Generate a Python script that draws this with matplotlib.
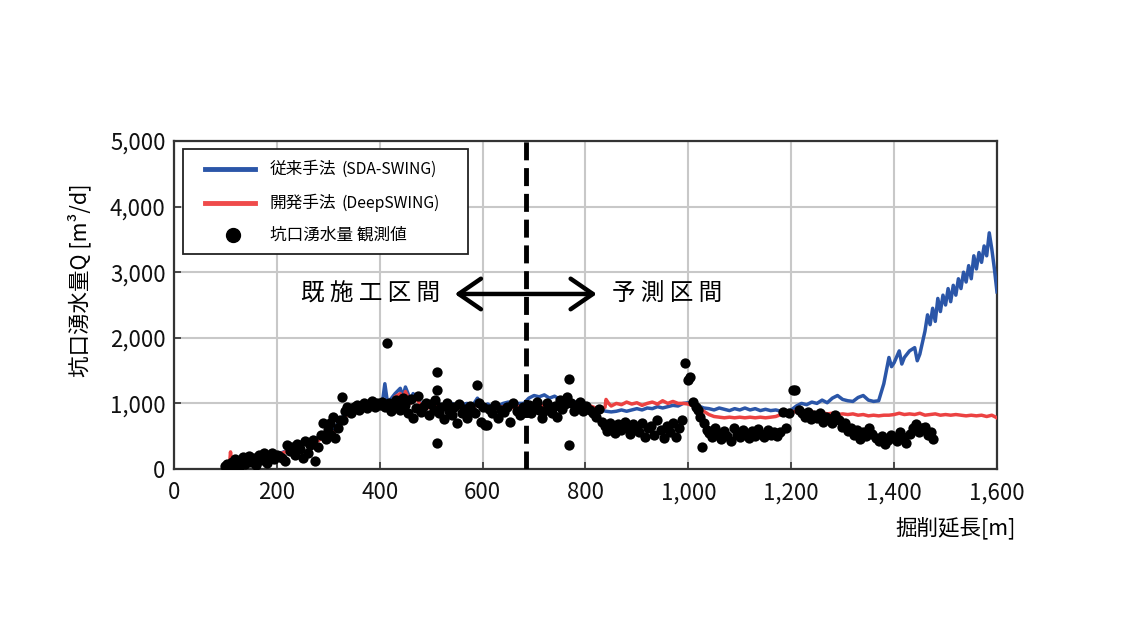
import matplotlib
matplotlib.use("Agg")
import matplotlib.pyplot as plt
from matplotlib.patches import Rectangle

plt.rcParams['font.family'] = ['Noto Sans CJK JP', 'DejaVu Sans']

# 従来手法 (SDA-SWING)
sda_x = [105, 110, 120, 130, 140, 150, 160, 170, 180, 190, 200, 210, 220, 230, 240, 250, 260, 270, 280, 290,
         300, 310, 320, 330, 340, 350, 360, 370, 380, 390, 400, 405, 410, 415, 420, 430, 440, 445, 450, 460,
         465, 470, 480, 490, 500, 510, 520, 530, 540, 550, 560, 570, 580, 590, 600, 610, 620, 630, 640, 650,
         660, 670, 680, 690, 700, 710, 720, 730, 740, 750, 760, 770, 780, 790, 800, 810, 820, 830, 840, 850,
         860, 870, 880, 890, 900, 910, 920, 930, 940, 950, 960, 970, 980, 990, 1000, 1010, 1020, 1030, 1040,
         1050, 1060, 1070, 1080, 1090, 1100, 1110, 1120, 1130, 1140, 1150, 1160, 1170, 1180, 1190, 1200, 1210,
         1220, 1230, 1240, 1250, 1260, 1270, 1280, 1290, 1300, 1310, 1320, 1330, 1340, 1350, 1360, 1370, 1380,
         1390, 1395, 1400, 1410, 1415, 1420, 1430, 1440, 1445, 1450, 1460, 1465, 1470, 1475, 1480, 1485, 1490,
         1495, 1500, 1505, 1510, 1515, 1520, 1525, 1530, 1535, 1540, 1545, 1550, 1555, 1560, 1565, 1570, 1575,
         1580, 1585, 1590, 1595, 1600]
sda_y = [30, 60, 80, 120, 100, 150, 130, 180, 160, 200, 220, 250, 280, 330, 380, 420, 400, 480, 470, 520,
         550, 620, 700, 820, 880, 900, 920, 940, 960, 980, 990, 1000, 1300, 1020, 1050, 1150, 1230, 1100, 1250, 1050,
         1150, 1100, 1000, 950, 1000, 1050, 950, 980, 1000, 960, 980, 1000, 960, 1080, 960, 990, 940, 960, 1000, 1020,
         950, 1000, 1000, 1080, 1120, 1100, 1130, 1080, 1110, 1060, 1020, 1000, 1020, 980, 980, 950, 920, 900, 880, 870,
         880, 900, 880, 900, 920, 900, 930, 920, 950, 930, 950, 970, 960, 1000, 1010, 1000, 960, 930, 920,
         900, 930, 910, 890, 920, 900, 930, 900, 920, 890, 910, 890, 900, 880, 870, 900, 960,
         1000, 980, 1020, 1000, 1050, 1010, 1080, 1120, 1060, 1040, 1030, 1090, 1120, 1050, 1030, 1040, 1300,
         1700, 1560, 1620, 1800, 1600, 1700, 1800, 1850, 1650, 1750, 2100, 2350, 2200, 2450, 2250, 2600, 2400,
         2650, 2500, 2750, 2550, 2800, 2650, 2900, 2750, 3000, 2850, 3100, 2900, 3250, 3050, 3300, 3150, 3400,
         3250, 3600, 3350, 3050, 2700]

# 開発手法 (DeepSWING)
deep_x = [105, 108, 110, 112, 120, 130, 140, 150, 160, 170, 180, 190, 200, 210, 220, 230, 240, 250, 260, 270,
          280, 290, 300, 310, 320, 330, 340, 350, 360, 370, 380, 390, 400, 410, 420, 430, 440, 445, 450, 460,
          470, 480, 490, 500, 510, 520, 530, 540, 550, 560, 570, 580, 590, 600, 610, 620, 630, 640, 650, 660,
          670, 680, 690, 700, 710, 720, 730, 740, 750, 760, 770, 780, 790, 800, 810, 820, 830, 838, 840, 845,
          850, 860, 870, 880, 890, 900, 910, 920, 930, 940, 950, 960, 970, 980, 990, 1000, 1010, 1020, 1030,
          1040, 1050, 1060, 1070, 1080, 1090, 1100, 1110, 1120, 1130, 1140, 1150, 1160, 1170, 1180, 1190, 1200,
          1210, 1220, 1230, 1240, 1250, 1260, 1270, 1280, 1290, 1300, 1310, 1320, 1330, 1340, 1350, 1360, 1370,
          1380, 1390, 1400, 1410, 1420, 1430, 1440, 1450, 1460, 1470, 1480, 1490, 1500, 1510, 1520, 1530, 1540,
          1550, 1560, 1570, 1580, 1590, 1600]
deep_y = [30, 60, 260, 60, 70, 110, 90, 140, 120, 170, 150, 190, 210, 240, 270, 320, 350, 400, 380, 440,
          430, 480, 520, 560, 600, 780, 850, 880, 900, 930, 950, 970, 980, 1000, 980, 1100, 1150, 1000, 1180, 1000,
          1080, 980, 920, 950, 980, 930, 940, 960, 920, 950, 930, 940, 980, 920, 940, 900, 930, 950, 920, 940,
          950, 960, 980, 960, 980, 960, 990, 950, 970, 960, 980, 960, 970, 950, 960, 930, 920, 940, 1060, 1000,
          960, 1000, 980, 1020, 990, 1010, 970, 1000, 1020, 990, 1040, 1000, 1030, 1000, 1000, 990, 960, 920, 880,
          830, 800, 790, 780, 790, 780, 790, 780, 790, 780, 790, 780, 790, 800, 830, 860, 880,
          870, 880, 860, 870, 850, 860, 840, 850, 830, 840, 830, 840, 820, 830, 810, 820, 810,
          820, 820, 830, 850, 830, 840, 830, 850, 820, 830, 840, 820, 830, 820, 830, 820, 810,
          820, 810, 820, 800, 820, 780]

# 坑口湧水量 観測値
obs_x = [100, 104, 108, 112, 115, 118, 122, 126, 130, 134, 138, 142, 146, 150, 155, 160, 165, 170, 175, 180,
         185, 190, 195, 200,
         205, 210, 215, 220, 225, 230, 235, 240, 245, 250, 255, 260, 265, 270, 275, 280, 285, 290, 295, 300,
         303, 306, 310, 314, 318, 322, 326, 329, 332, 336, 340, 345, 350, 355, 360, 365, 370, 375, 380, 385,
         390, 395, 400,
         405, 410, 414, 418, 422, 428, 432, 436, 440, 445, 450, 455, 460, 465, 470, 475, 480, 485, 490, 495, 500,
         505, 508, 511, 511, 511, 515, 520, 525, 530, 535, 540, 545, 550, 555, 560, 565, 570, 575, 580, 585,
         589, 593, 597, 601, 605, 608,
         612, 618, 624, 630, 636, 642, 648, 654, 660, 666, 672, 678, 684, 690,
         695, 700, 705, 710, 715, 720, 725, 730, 735, 740, 745, 750, 755, 760, 765, 768, 768, 772, 778, 784,
         790, 796, 802, 808, 814, 820, 826,
         832, 838, 842, 848, 854, 858, 864, 870, 876, 880, 886, 892, 898, 904, 910, 916, 922, 928, 934, 940,
         946, 952, 958, 964, 970, 976, 982, 988,
         993, 999, 1003, 1009, 1014, 1018, 1022, 1026, 1030, 1036, 1040, 1046, 1052, 1058, 1064, 1070, 1076,
         1082, 1088, 1094, 1100, 1106, 1112, 1118, 1124, 1130, 1136, 1142, 1148, 1154, 1160, 1166, 1172, 1178,
         1184, 1190,
         1196, 1203, 1207, 1215, 1220, 1226, 1232, 1238, 1244, 1250, 1256, 1262, 1268, 1274, 1280, 1286, 1292,
         1298, 1304, 1310, 1316, 1322, 1328, 1334, 1340, 1346, 1352, 1358, 1364, 1370, 1376, 1382, 1388, 1394,
         1400, 1406, 1412, 1418, 1424, 1430, 1436, 1442, 1448, 1454, 1460, 1466, 1472, 1476]
obs_y = [40, 80, 20, 100, 60, 150, 90, 30, 120, 180, 70, 140, 200, 110, 170, 60, 210, 130, 240, 90,
         180, 250, 150, 210,
         200, 170, 120, 370, 280, 330, 220, 380, 300, 160, 420, 250, 360, 440, 120, 330, 520, 700, 460, 600,
         700, 520, 800, 470, 620, 750, 1100, 750, 880, 950, 920, 860, 940, 980, 900, 960, 1010, 930, 990, 1040,
         950, 1000, 980,
         1020, 950, 1920, 1000, 880, 960, 1050, 1000, 900, 1080, 980, 850, 1060, 780, 930, 1120, 870, 950, 1000, 820, 990,
         900, 1050, 1480, 1200, 400, 860, 950, 760, 1000, 880, 820, 940, 700, 990, 850, 920, 780, 960, 880, 850,
         1280, 1000, 720, 950, 670, 670,
         920, 850, 980, 780, 900, 870, 950, 720, 1000, 880, 820, 940, 900, 980,
         850, 950, 1020, 900, 780, 880, 1000, 920, 860, 960, 800, 1050, 920, 990, 1100, 1370, 370, 1000, 880, 950,
         1020, 890, 960, 900, 850, 800, 920,
         720, 650, 580, 700, 620, 550, 680, 600, 720, 640, 540, 690, 620, 560, 700, 480, 620, 660, 520, 740,
         590, 470, 650, 560, 700, 480, 620, 740,
         1620, 1360, 1400, 1020, 950, 900, 800, 340, 700, 600, 550, 480, 620, 520, 450, 580, 500,
         430, 620, 540, 480, 590, 520, 470, 580, 500, 610, 540, 480, 600, 520, 570, 500, 560,
         870, 620,
         860, 1200, 1200, 900, 850, 800, 870, 760, 820, 780, 850, 720, 800, 760, 700, 820, 740,
         640, 700, 580, 620, 520, 600, 450, 560, 500, 620, 540, 470, 420, 500, 380, 440, 520,
         470, 420, 560, 480, 400, 540, 620, 680, 560, 620, 640, 520, 560, 450]

x_ticks = [0, 200, 400, 600, 800, 1000, 1200, 1400, 1600]
x_labels = ['0', '200', '400', '600', '800', '1,000', '1,200', '1,400', '1,600']
y_ticks = [0, 1000, 2000, 3000, 4000, 5000]
y_labels = ['0', '1,000', '2,000', '3,000', '4,000', '5,000']
boundary_x = 685

blue = '#2b56a8'
red = '#ec4242'

fig = plt.figure(figsize=(11.31, 6.36), dpi=100)
ax = fig.add_axes([0.1538, 0.2626, 0.7277, 0.5157])

ax.plot(sda_x, sda_y, color=blue, lw=2.5, zorder=3)
ax.plot(deep_x, deep_y, color=red, lw=2.5, zorder=3)
ax.scatter(obs_x, obs_y, s=55, color='black', zorder=4, linewidths=0)

ax.axvline(boundary_x, color='black', lw=3.5, dashes=(3.7, 1.6), zorder=5)

ax.set_xlim(0, 1600)
ax.set_ylim(0, 5000)
ax.set_xticks(x_ticks)
ax.set_xticklabels(x_labels)
ax.set_yticks(y_ticks)
ax.set_yticklabels(y_labels)
ax.tick_params(direction='in', length=5, width=1.2, colors='#333333', labelcolor='#111111',
               labelsize=16)
ax.tick_params(axis='x', pad=9)
ax.tick_params(axis='y', pad=6)
ax.grid(True, color='#c8c8c8', lw=1.5, zorder=0)
for s in ax.spines.values():
    s.set_color('#333333')
    s.set_linewidth(1.6)

# y label and x label
fig.text(80 / 1131, 1 - 280 / 636, '坑口湧水量Q [m³/d]', rotation=90, ha='center', va='center',
         fontsize=15.5)
fig.text(1016 / 1131, 1 - 528 / 636, '掘削延長[m]', ha='right', va='center', fontsize=15.5)

# section arrow and labels
arrow_y = 2668
ax.annotate('', xy=(546, arrow_y), xytext=(822, arrow_y),
            arrowprops=dict(arrowstyle='<->,head_length=0.8,head_width=0.55', lw=3.2,
                            color='black', mutation_scale=20, shrinkA=0, shrinkB=0), zorder=6)
ax.text(517, arrow_y, '既 施 工 区 間', ha='right', va='center', fontsize=17, zorder=6)
ax.text(851, arrow_y, '予 測 区 間', ha='left', va='center', fontsize=17, zorder=6)

# legend drawn by hand (parentheses part is smaller)
ax.add_patch(Rectangle((0.0109, 0.6555), 0.3463, 0.3201, transform=ax.transAxes,
                       facecolor='white', edgecolor='#222222', lw=1.3, zorder=7))
rows = [0.9146, 0.811, 0.7134]
ax.plot([0.0377, 0.0984], [rows[0]] * 2, color=blue, lw=3.5, transform=ax.transAxes, zorder=8)
ax.plot([0.0377, 0.0984], [rows[1]] * 2, color='#ef4b4b', lw=3.5, transform=ax.transAxes, zorder=8)
ax.plot([0.0717], [rows[2]], 'o', color='black', ms=10, transform=ax.transAxes, zorder=8)
ax.text(0.1166, rows[0], '従来手法', transform=ax.transAxes, va='center', fontsize=12, zorder=8)
ax.text(0.2035, rows[0], '(SDA-SWING)', transform=ax.transAxes, va='center', fontsize=11.3, zorder=8)
ax.text(0.1166, rows[1], '開発手法', transform=ax.transAxes, va='center', fontsize=12, zorder=8)
ax.text(0.2035, rows[1], '(DeepSWING)', transform=ax.transAxes, va='center', fontsize=11.3, zorder=8)
ax.text(0.1166, rows[2], '坑口湧水量 観測値', transform=ax.transAxes, va='center', fontsize=12, zorder=8)

fig.savefig('out.png', dpi=100)
